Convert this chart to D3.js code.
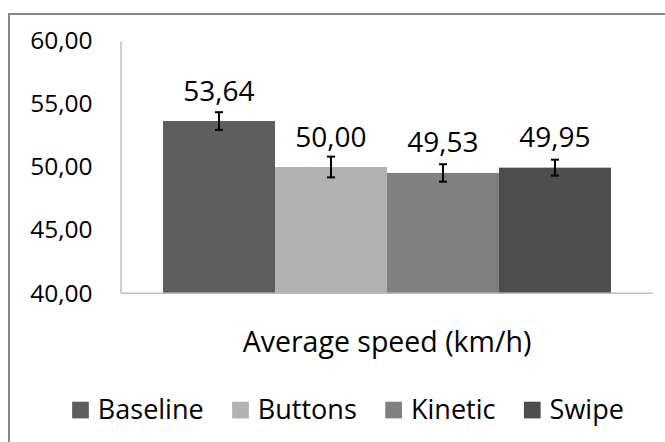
<!DOCTYPE html>
<html>
<head>
<meta charset="utf-8">
<script src="https://cdn.jsdelivr.net/npm/d3@7/dist/d3.min.js"></script>
<style>
  html, body { margin: 0; padding: 0; background: #fff; }
  svg { display: block; }
  text { font-family: "Open Sans", Lato, sans-serif; fill: #000; }
</style>
</head>
<body>
<svg id="chart" width="665" height="442"></svg>
<script>
const categories = ["Average speed (km/h)"];
const series = ["Baseline", "Buttons", "Kinetic", "Swipe"];
const values = [53.64, 50.00, 49.53, 49.95];
const errors = [0.70, 0.82, 0.69, 0.63];
const valueLabels = ["53,64", "50,00", "49,53", "49,95"];
const colors = ["#5e5e5e", "#b2b2b2", "#808080", "#4d4d4d"];
const yTicks = [40, 45, 50, 55, 60];

const svg = d3.select("#chart");
const W = 665, H = 442;
const plot = { left: 121, right: 653, top: 40.7, bottom: 293.3 };

// outer frame
svg.append("rect")
  .attr("x", 9).attr("y", 14)
  .attr("width", W + 20).attr("height", H + 20)
  .attr("fill", "none").attr("stroke", "#878787").attr("stroke-width", 2);

const y = d3.scaleLinear().domain([40, 60]).range([plot.bottom, plot.top]);
const x0 = d3.scaleBand().domain(categories).range([plot.left, plot.right]).padding(0);
const x1 = d3.scaleBand().domain(series).range([0, x0.bandwidth()])
  .paddingInner(0).paddingOuter(0.375);

const fmt = v => d3.format(".2f")(v).replace(".", ",");

// y axis (labels only, no ticks)
const yAxis = d3.axisLeft(y).tickValues(yTicks).tickSize(0).tickPadding(28.5).tickFormat(fmt);
const gy = svg.append("g").attr("transform", `translate(${plot.left},0)`).call(yAxis);
gy.select(".domain").remove();
gy.selectAll("text").style("font-size", "24.5px").style("font-family", "'Open Sans', sans-serif").attr("fill", "#000");

// bars
const g = svg.append("g").attr("transform", `translate(${x0(categories[0])},0)`);
const data = series.map((s, i) => ({ s, v: values[i], e: errors[i], lab: valueLabels[i], c: colors[i] }));

g.selectAll("rect.bar").data(data).enter().append("rect")
  .attr("class", "bar")
  .attr("x", d => x1(d.s))
  .attr("width", x1.bandwidth())
  .attr("y", d => y(d.v))
  .attr("height", d => y(40) - y(d.v))
  .attr("fill", d => d.c);

// axis lines
svg.append("line")
  .attr("x1", plot.left).attr("x2", plot.left)
  .attr("y1", y(60) + 1).attr("y2", y(40))
  .attr("stroke", "#bfbfbf").attr("stroke-width", 1.5);
svg.append("line")
  .attr("x1", plot.left).attr("x2", plot.right)
  .attr("y1", y(40)).attr("y2", y(40))
  .attr("stroke", "#bfbfbf").attr("stroke-width", 1.5);

// error bars
const eb = g.selectAll("g.err").data(data).enter().append("g").attr("class", "err")
  .attr("transform", d => `translate(${x1(d.s) + x1.bandwidth() / 2},0)`);
eb.append("line").attr("x1", 0).attr("x2", 0)
  .attr("y1", d => y(d.v + d.e)).attr("y2", d => y(d.v - d.e))
  .attr("stroke", "#000").attr("stroke-width", 2);
eb.append("line").attr("x1", -4).attr("x2", 4)
  .attr("y1", d => y(d.v + d.e)).attr("y2", d => y(d.v + d.e))
  .attr("stroke", "#000").attr("stroke-width", 2);
eb.append("line").attr("x1", -4).attr("x2", 4)
  .attr("y1", d => y(d.v - d.e)).attr("y2", d => y(d.v - d.e))
  .attr("stroke", "#000").attr("stroke-width", 2);

// value labels
g.selectAll("text.val").data(data).enter().append("text")
  .attr("class", "val")
  .attr("x", d => x1(d.s) + x1.bandwidth() / 2)
  .attr("y", d => y(d.v) - 20.5)
  .attr("text-anchor", "middle")
  .style("font-size", "28px")
  .text(d => d.lab);

// category label
svg.append("text")
  .attr("x", x0(categories[0]) + x0.bandwidth() / 2)
  .attr("y", 352)
  .attr("text-anchor", "middle")
  .style("font-size", "28.5px")
  .text(categories[0]);

// legend
const leg = svg.append("g");
const sq = 16.7, gapTxt = 9, gapItem = 28.5;
let cx = 0;
data.forEach(d => {
  const it = leg.append("g").attr("transform", `translate(${cx},0)`);
  it.append("rect").attr("x", 0).attr("y", 401.7).attr("width", sq).attr("height", sq).attr("fill", d.c);
  const t = it.append("text").attr("x", sq + gapTxt).attr("y", 418.5)
    .style("font-size", "27px").text(d.s);
  const w = t.node().getComputedTextLength();
  cx += sq + gapTxt + w + gapItem;
});
const total = cx - gapItem;
leg.attr("transform", `translate(${348 - total / 2},0)`);
</script>
</body>
</html>
